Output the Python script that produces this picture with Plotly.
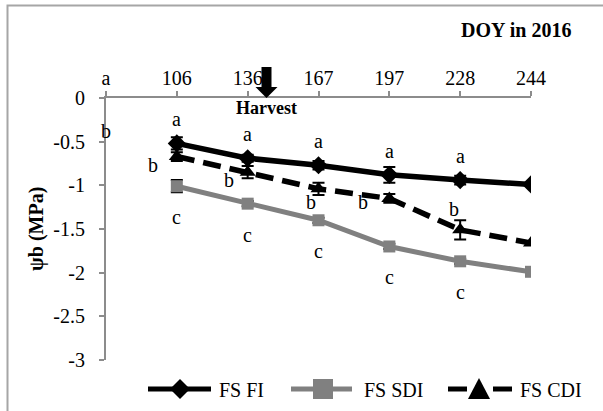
import plotly.graph_objects as go

# ---------------- data ----------------
categories = ["a", "106", "136", "167", "197", "228", "244"]
doy = ["106", "136", "167", "197", "228", "244"]

fs_fi = [-0.52, -0.69, -0.77, -0.88, -0.94, -0.99]
fs_fi_err = [0.07, 0.04, 0.05, 0.09, 0.05, 0.0]
fs_sdi = [-1.01, -1.21, -1.40, -1.70, -1.87, -1.99]
fs_sdi_err = [0.07, 0.03, 0.03, 0.03, 0.03, 0.0]
fs_cdi = [-0.67, -0.85, -1.04, -1.15, -1.51, -1.66]
fs_cdi_err = [0.05, 0.07, 0.07, 0.05, 0.11, 0.0]

series_names = ["FS FI", "FS SDI", "FS CDI"]

fi_letters = ["a", "a", "a", "a", "a"]
sdi_letters = ["c", "c", "c", "c", "c"]
cdi_letters = ["b", "b", "b", "b", "b"]
stray_label = ("b", -0.38)  # label at first category

y_ticks = [0, -0.5, -1, -1.5, -2, -2.5, -3]
y_ticktext = ["0", "-0.5", "-1", "-1.5", "-2", "-2.5", "-3"]

# ---------------- layout helpers ----------------
W, H = 603, 411
def px(x):
    return x / W
def py(y):
    return (H - y) / H

FONT = "Liberation Serif"
GRAY_AX = "#8c8c8c"
GRAY_S = "#808080"
FS = 20
xs = [categories.index(d) for d in doy]

fig = go.Figure()

fig.add_trace(go.Scatter(
    x=xs, y=fs_fi, name=series_names[0], mode="lines+markers",
    line=dict(color="black", width=5.5),
    marker=dict(symbol="diamond", size=14, color="black"),
    error_y=dict(type="data", array=fs_fi_err, color="black", thickness=2, width=6),
))
fig.add_trace(go.Scatter(
    x=xs, y=fs_sdi, name=series_names[1], mode="lines+markers",
    line=dict(color=GRAY_S, width=5),
    marker=dict(symbol="square", size=12, color=GRAY_S),
    error_y=dict(type="data", array=fs_sdi_err, color="black", thickness=2, width=6),
))
fig.add_trace(go.Scatter(
    x=xs, y=fs_cdi, name=series_names[2], mode="lines+markers",
    line=dict(color="black", width=5.5, dash="18px,9px"),
    marker=dict(symbol="triangle-up", size=14, color="black"),
    error_y=dict(type="data", array=fs_cdi_err, color="black", thickness=2, width=6),
))

annotations = []
lab_font = dict(family=FONT, size=FS, color="black")
for i, t in enumerate(fi_letters):
    annotations.append(dict(x=xs[i], y=fs_fi[i], text=t, showarrow=False,
                            yshift=24, font=lab_font))
for i, t in enumerate(sdi_letters):
    annotations.append(dict(x=xs[i], y=fs_sdi[i], text=t, showarrow=False,
                            yshift=-31, font=lab_font))
cdi_offsets = [(-24, -8), (-19, -8), (-8, -13), (-26, -4), (-6, 21)]
for i, t in enumerate(cdi_letters):
    dx, dy = cdi_offsets[i]
    annotations.append(dict(x=xs[i], y=fs_cdi[i], text=t, showarrow=False,
                            xshift=dx, yshift=dy, font=lab_font))
annotations.append(dict(x=0, y=stray_label[1], text=stray_label[0], showarrow=False,
                        font=lab_font))

# titles / notes
annotations.append(dict(xref="paper", yref="paper", x=px(516), y=py(30),
                        xanchor="center", yanchor="middle",
                        text="<b>DOY in 2016</b>", showarrow=False,
                        font=dict(family=FONT, size=FS, color="black")))
annotations.append(dict(xref="paper", yref="paper", x=px(266), y=py(108),
                        xanchor="center", yanchor="middle",
                        text="<b>Harvest</b>", showarrow=False,
                        font=dict(family=FONT, size=18, color="black")))
annotations.append(dict(xref="paper", yref="paper", x=px(36), y=py(229),
                        xanchor="center", yanchor="middle",
                        text="<b>ψb (MPa)</b>", showarrow=False, textangle=-90,
                        font=dict(family=FONT, size=FS, color="black")))

# custom legend texts
legend_text_x = [217, 362, 518]
for name, lx in zip(series_names, legend_text_x):
    annotations.append(dict(xref="paper", yref="paper", x=px(lx), y=py(390),
                            xanchor="left", yanchor="middle", text=name,
                            showarrow=False, font=dict(family=FONT, size=FS, color="black")))

shapes = [
    # outer border
    dict(type="rect", xref="paper", yref="paper", x0=px(7.5), y0=py(415),
         x1=px(608), y1=py(5.5), line=dict(color="#a6a6a6", width=2)),
    # harvest arrow shaft
    dict(type="rect", xref="paper", yref="paper", x0=px(261.5), x1=px(271.5),
         y0=py(88), y1=py(67), fillcolor="black", line=dict(width=0)),
    # harvest arrow head
    dict(type="path", xref="paper", yref="paper",
         path=f"M {px(255.5)} {py(87)} L {px(277.5)} {py(87)} L {px(266.5)} {py(98)} Z",
         fillcolor="black", line=dict(width=0)),
]

# custom legend symbols
LY = 389
def hline(x0, x1, color):
    return dict(type="line", xref="paper", yref="paper", x0=px(x0), x1=px(x1),
                y0=py(LY), y1=py(LY), line=dict(color=color, width=5))
def poly(pts, color):
    path = "M " + " L ".join(f"{px(a)} {py(b)}" for a, b in pts) + " Z"
    return dict(type="path", xref="paper", yref="paper", path=path,
                fillcolor=color, line=dict(width=0))

shapes += [
    hline(148, 211, "black"),
    poly([(180, LY - 10), (190, LY), (180, LY + 10), (170, LY)], "black"),
    hline(291, 352, GRAY_S),
    poly([(313, LY - 10), (333, LY - 10), (333, LY + 10), (313, LY + 10)], GRAY_S),
    hline(448, 467, "black"),
    hline(493, 512, "black"),
    poly([(479, LY - 11), (490, LY + 10), (468, LY + 10)], "black"),
]

fig.update_layout(
    width=W, height=H,
    margin=dict(l=0, r=0, t=0, b=0, pad=0, autoexpand=False),
    paper_bgcolor="white", plot_bgcolor="white",
    font=dict(family=FONT, size=FS, color="black"),
    showlegend=False,
    xaxis=dict(domain=[px(106), px(531)], range=[0, 6], side="top",
               tickmode="array", tickvals=list(range(len(categories))), ticktext=categories,
               showline=True, linecolor=GRAY_AX, linewidth=2,
               ticks="outside", ticklen=5, tickcolor=GRAY_AX, tickwidth=2,
               ticklabelstandoff=-2, automargin=False,
               showgrid=False, zeroline=False,
               tickfont=dict(family=FONT, size=FS, color="black")),
    yaxis=dict(domain=[py(360), py(98)], range=[-3, 0],
               tickmode="array", tickvals=y_ticks, ticktext=y_ticktext,
               showline=True, linecolor=GRAY_AX, linewidth=2,
               ticks="outside", ticklen=5, tickcolor=GRAY_AX, tickwidth=2,
               ticklabelstandoff=10, automargin=False,
               showgrid=False, zeroline=False,
               tickfont=dict(family=FONT, size=FS, color="black")),
    annotations=annotations,
    shapes=shapes,
)

fig.write_html("out.html", config={"displayModeBar": False},
               post_script="document.body.style.margin='0px';")
